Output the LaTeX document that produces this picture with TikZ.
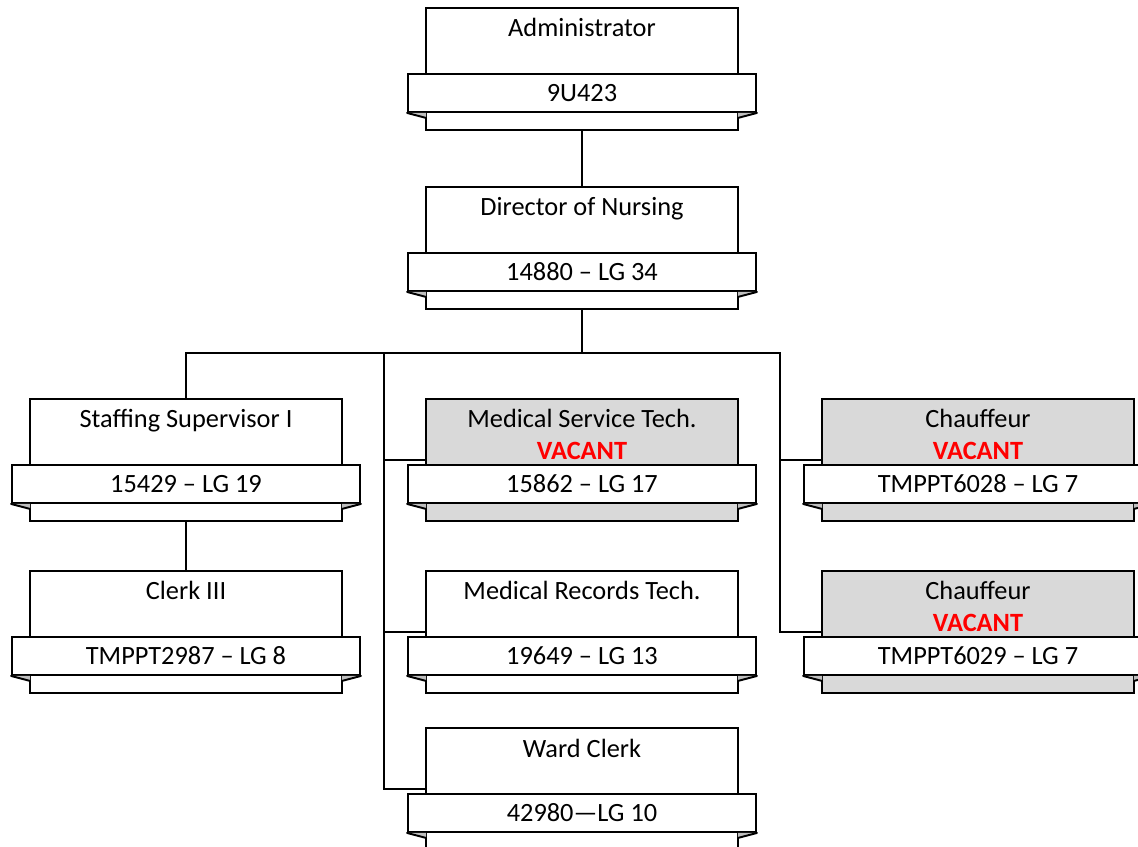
\documentclass[tikz,border=0pt]{standalone}
\usepackage{fontspec}
\setmainfont{Carlito}
\usepackage{xcolor}
\definecolor{boxgray}{RGB}{217,217,217}
\definecolor{foldgray}{RGB}{191,191,191}
\definecolor{vacred}{RGB}{255,0,0}
\tikzset{
  postbox/.style={draw, line width=1.1pt, minimum width=6.24cm, minimum height=2.44cm, inner sep=0pt},
  ribbon/.style={draw, fill=white, line width=1.1pt, minimum width=6.96cm, minimum height=0.76cm, inner sep=0pt},
  posttitle/.style={anchor=base, inner sep=0pt},
  vacant/.style={anchor=base, inner sep=0pt, text=vacred, font=\fontsize{15}{18}\selectfont\bfseries},
  link/.style={line width=1.4pt},
}
% name, x, top y, fill, title, code
\newcommand{\post}[6]{%
  \node[postbox, fill=#4, anchor=north] (#1) at (#2,#3) {};
  \node[posttitle] (#1-t) at ([yshift=-0.6cm]#1.north) {#5};
  \node[ribbon] (#1-c) at ([yshift=-1.72cm]#1.north) {#6};
  \fill[foldgray] (#1-c.south west) -- ++(0.38cm,0) -- ++(0,-0.1cm) -- cycle;
  \fill[foldgray] (#1-c.south east) -- ++(-0.38cm,0) -- ++(0,-0.1cm) -- cycle;
  \draw[line width=1.1pt, line cap=round] (#1-c.south west) -- ++(0.38cm,-0.1cm);
  \draw[line width=1.1pt, line cap=round] (#1-c.south east) -- ++(-0.38cm,-0.1cm);
}

\begin{document}
\begin{tikzpicture}[x=0.02cm, y=-0.02cm, font=\fontsize{15}{18}\selectfont]
  \useasboundingbox (0,0) rectangle (1138,847);
  \clip (0,0) rectangle (1138,847);

  \post{admin}{582}{7}{white}{Administrator}{9U423}
  \post{dir}{582}{186}{white}{Director of Nursing}{14880 \textendash{} LG 34}
  \post{staff}{186}{398}{white}{Staffing Supervisor I}{15429 \textendash{} LG 19}
  \post{mst}{582}{398}{boxgray}{Medical Service Tech.}{15862 \textendash{} LG 17}
  \post{chf1}{978}{398}{boxgray}{Chauffeur}{TMPPT6028 \textendash{} LG 7}
  \post{clerk}{186}{570}{white}{Clerk III}{TMPPT2987 \textendash{} LG 8}
  \post{mrt}{582}{570}{white}{Medical Records Tech.}{19649 \textendash{} LG 13}
  \post{chf2}{978}{570}{boxgray}{Chauffeur}{TMPPT6029 \textendash{} LG 7}
  \post{ward}{582}{727}{white}{Ward Clerk}{42980\textemdash LG 10}

  \node[vacant] (mst-v) at ([yshift=-1.24cm]mst.north) {VACANT};
  \node[vacant] (chf1-v) at ([yshift=-1.24cm]chf1.north) {VACANT};
  \node[vacant] (chf2-v) at ([yshift=-1.24cm]chf2.north) {VACANT};

  \coordinate (bus) at (582,353);
  \coordinate (llane) at (384,353);
  \coordinate (rlane) at (780,353);

  \draw[link] (admin.south) -- (dir.north);
  \draw[link] (dir.south) -- (bus);
  \draw[link] (staff.north) |- (rlane) |- (chf2.west);
  \draw[link] (rlane |- chf1.west) -- (chf1.west);
  \draw[link] (llane) |- (ward.west);
  \draw[link] (llane |- mst.west) -- (mst.west);
  \draw[link] (llane |- mrt.west) -- (mrt.west);
  \draw[link] (staff.south) -- (clerk.north);
\end{tikzpicture}
\end{document}
